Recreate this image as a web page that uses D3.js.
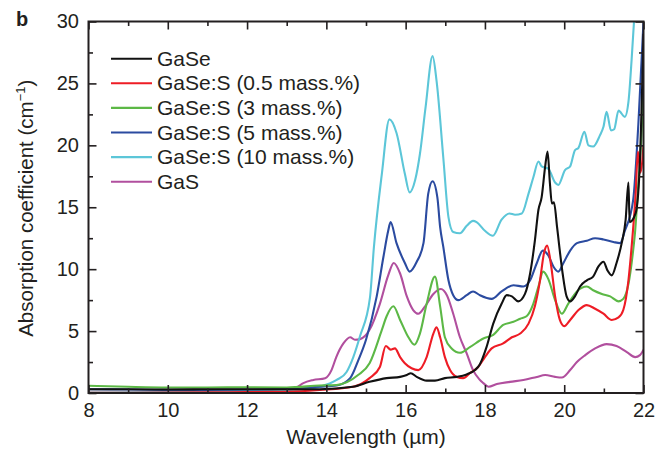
<!DOCTYPE html>
<html>
<head>
<meta charset="utf-8">
<script src="https://cdn.jsdelivr.net/npm/d3@7"></script>
<style>
  html, body { margin: 0; padding: 0; background: #fff; }
  svg { display: block; font-family: "Liberation Sans", Arial, Helvetica, sans-serif; }
</style>
</head>
<body>
<svg id="chart" width="656" height="449"></svg>
<script>
// ---- Data (wavelength µm, absorption cm^-1) ----
const seriesNames = ["GaSe", "GaSe:S (0.5 mass.%)", "GaSe:S (3 mass.%)", "GaSe:S (5 mass.%)", "GaSe:S (10 mass.%)", "GaS"];
const seriesColors = ["#111111", "#ee1c25", "#5cb846", "#2b4ba0", "#5cc6d8", "#b14f9e"];

const gaSe = [[8,0.3],[9,0.3],[10,0.28],[11,0.3],[12,0.3],[13,0.3],[13.83,0.3],[14.67,0.5],[15.09,0.9],[15.52,1.2],[15.86,1.3],[16.03,1.45],[16.13,1.6],[16.28,1.3],[16.53,1.0],[16.74,1.0],[16.99,1.2],[17.29,1.3],[17.54,1.5],[17.75,1.85],[17.87,2.3],[18.04,3.7],[18.21,5.6],[18.42,7.2],[18.55,7.9],[18.68,7.8],[18.84,7.4],[19.01,8.0],[19.14,9.65],[19.26,12.3],[19.35,14.8],[19.43,15.8],[19.52,18.3],[19.58,19.5],[19.64,16.9],[19.69,15.3],[19.74,15.4],[19.82,13.4],[19.87,12.0],[19.96,9.65],[20.06,7.8],[20.15,7.4],[20.27,7.8],[20.4,8.6],[20.57,9.1],[20.73,9.4],[20.86,10.2],[20.99,10.6],[21.09,9.9],[21.2,9.5],[21.32,10.5],[21.45,12.1],[21.55,14],[21.62,17.0],[21.65,13.8],[21.8,14.5],[21.9,18],[22,29]];

const gaSeS05 = [[8,0.02],[9,0.02],[10,0.03],[11,0.05],[12,0.08],[13,0.1],[13.83,0.24],[14.67,0.5],[15.09,1.2],[15.35,2.1],[15.5,3.8],[15.62,3.5],[15.73,3.6],[15.86,2.9],[15.98,2.4],[16.15,2.0],[16.32,1.85],[16.53,2.9],[16.7,4.8],[16.78,5.3],[16.87,4.5],[16.99,2.9],[17.12,1.85],[17.29,1.3],[17.45,1.2],[17.62,1.6],[17.83,2.1],[18.0,2.9],[18.17,3.6],[18.46,4.0],[18.68,4.5],[18.89,4.8],[19.1,5.6],[19.26,7.0],[19.39,9.1],[19.49,11.3],[19.57,11.9],[19.66,10.5],[19.77,7.8],[19.89,5.9],[20.0,5.4],[20.15,5.9],[20.36,6.7],[20.57,7.1],[20.78,6.8],[20.99,6.4],[21.2,5.9],[21.37,6.1],[21.49,6.7],[21.62,9.1],[21.7,11.8],[21.8,16],[21.86,19.5],[21.92,17.8],[22,20]];

const gaSeS3 = [[8,0.58],[9,0.5],[10,0.45],[11,0.45],[12,0.46],[13,0.45],[13.83,0.6],[14.26,0.65],[14.8,1.45],[15.09,2.4],[15.4,5.1],[15.52,6.2],[15.69,7.0],[15.86,5.9],[16.07,4.5],[16.22,3.9],[16.36,4.8],[16.53,7.2],[16.74,9.4],[16.87,7.0],[16.99,4.5],[17.16,3.6],[17.37,3.25],[17.62,3.7],[17.96,4.4],[18.21,4.7],[18.46,5.5],[18.72,5.75],[18.89,6.0],[19.05,6.2],[19.22,7.2],[19.35,8.6],[19.47,9.8],[19.6,9.2],[19.77,7.5],[19.94,6.4],[20.1,7.2],[20.32,8.2],[20.57,8.6],[20.73,8.3],[20.95,8.0],[21.16,7.8],[21.37,7.4],[21.49,7.6],[21.62,8.8],[21.72,11],[21.79,13.1],[21.87,16.9],[21.95,20.9],[22,25]];

const gaSeS5 = [[8,0.3],[9,0.28],[10,0.25],[11,0.25],[12,0.28],[13,0.35],[13.83,0.5],[14.26,0.6],[14.6,1.2],[14.8,2.6],[15.0,4.3],[15.27,7.8],[15.44,11],[15.56,13.1],[15.62,13.8],[15.77,12.1],[15.98,10.5],[16.1,9.8],[16.28,10.6],[16.45,12.1],[16.57,16.1],[16.68,17.1],[16.8,15.8],[16.87,13.4],[16.95,11.8],[17.08,9.1],[17.2,7.9],[17.33,7.5],[17.54,7.9],[17.7,8.2],[17.87,7.9],[18.17,7.6],[18.42,8.2],[18.72,8.7],[18.97,8.6],[19.14,9.1],[19.31,10.5],[19.46,11.5],[19.6,11.1],[19.73,10.2],[19.85,9.8],[19.98,10.5],[20.15,11.5],[20.32,12.1],[20.57,12.3],[20.78,12.5],[20.99,12.4],[21.24,12.2],[21.41,12.1],[21.53,13.1],[21.74,15.6],[21.87,21.7],[22,30]];

const gaSeS10 = [[8,0.03],[9,0.05],[10,0.08],[11,0.12],[12,0.18],[13,0.25],[13.42,0.3],[13.84,0.5],[14.26,1.05],[14.51,1.7],[14.68,2.9],[14.85,4.6],[15.1,7.7],[15.2,11.8],[15.4,17.7],[15.59,22.1],[15.77,21],[15.98,17.7],[16.1,16.2],[16.24,17.2],[16.36,19.3],[16.5,23],[16.68,27.2],[16.78,25.2],[16.95,19],[17.08,14.2],[17.2,13],[17.37,12.9],[17.54,13.5],[17.7,13.9],[17.79,13.8],[18.0,13.1],[18.2,12.7],[18.42,14],[18.62,14.5],[18.76,14.4],[18.93,14.5],[19.1,16.1],[19.22,17.4],[19.35,18.7],[19.43,18.3],[19.6,18.1],[19.77,17],[19.85,16.8],[20.02,18],[20.15,18.3],[20.27,19.6],[20.36,19.8],[20.51,21.1],[20.61,20],[20.73,19.9],[20.9,20.8],[20.99,21.5],[21.07,22.7],[21.18,21.2],[21.26,21.3],[21.37,22.8],[21.53,22.3],[21.62,23.5],[21.7,26.9],[21.78,31]];

const gaS = [[11.2,0.0],[12,0.03],[12.83,0.1],[13.25,0.45],[13.42,0.8],[13.67,1.05],[13.97,1.2],[14.13,1.85],[14.25,2.9],[14.43,4.0],[14.6,4.5],[14.72,4.3],[14.85,4.35],[15.09,5.1],[15.35,7.2],[15.56,9.5],[15.7,10.5],[15.86,9.65],[16.03,7.8],[16.19,6.7],[16.32,6.4],[16.49,7.0],[16.7,8.0],[16.89,8.4],[17.04,7.9],[17.2,6.4],[17.37,4.5],[17.54,3.2],[17.7,1.85],[17.86,1.1],[17.96,0.8],[18.09,0.5],[18.3,0.72],[18.63,0.9],[18.97,1.05],[19.31,1.3],[19.52,1.45],[19.77,1.3],[19.94,1.25],[20.15,1.85],[20.32,2.5],[20.53,3.06],[20.78,3.6],[21.07,3.95],[21.32,3.8],[21.58,3.3],[21.79,2.9],[21.91,3.06],[22,3.5]];

const seriesData = [gaSe, gaSeS05, gaSeS3, gaSeS5, gaSeS10, gaS];
const xMajorTicks = [8, 10, 12, 14, 16, 18, 20, 22];
const xMinorTicks = [9, 11, 13, 15, 17, 19, 21];
const yMajorTicks = [0, 5, 10, 15, 20, 25, 30];
const yMinorTicks = [2.5, 7.5, 12.5, 17.5, 22.5, 27.5];

// ---- Layout ----
const svg = d3.select("#chart");
const L = 88.5, R = 643.5, T = 21.5, B = 393;
const x = d3.scaleLinear().domain([8, 22]).range([L, R]);
const y = d3.scaleLinear().domain([0, 30]).range([B, T]);
const ink = "#231f20";

svg.append("defs").append("clipPath").attr("id", "plotclip")
  .append("rect").attr("x", L).attr("y", T).attr("width", R - L).attr("height", B - T);

// data lines (drawn back to front)
const line = d3.line().x(d => x(d[0])).y(d => y(d[1])).curve(d3.curveMonotoneX);
const drawOrder = [5, 4, 3, 2, 1, 0];
const gLines = svg.append("g").attr("clip-path", "url(#plotclip)");
drawOrder.forEach(i => {
  gLines.append("path").datum(seriesData[i])
    .attr("fill", "none").attr("stroke", seriesColors[i])
    .attr("stroke-width", 2.1).attr("stroke-linejoin", "round")
    .attr("d", line);
});

// axes
function styleAxis(g) {
  g.select(".domain").remove();
  g.selectAll(".tick line").attr("stroke", ink).attr("stroke-width", 1.6);
  g.selectAll(".tick text").attr("fill", ink).attr("font-size", 20);
}
svg.append("g").attr("transform", `translate(0,${B})`)
  .call(d3.axisBottom(x).tickValues(xMajorTicks).tickSize(-8).tickPadding(9.5).tickFormat(d3.format("d")))
  .call(styleAxis);
svg.append("g").attr("transform", `translate(0,${B})`)
  .call(d3.axisBottom(x).tickValues(xMinorTicks).tickSize(-4.5).tickFormat(""))
  .call(styleAxis);
svg.append("g").attr("transform", `translate(0,${T})`)
  .call(d3.axisTop(x).tickValues(xMajorTicks).tickSize(-8).tickFormat(""))
  .call(styleAxis);
svg.append("g").attr("transform", `translate(0,${T})`)
  .call(d3.axisTop(x).tickValues(xMinorTicks).tickSize(-4.5).tickFormat(""))
  .call(styleAxis);
svg.append("g").attr("transform", `translate(${L},0)`)
  .call(d3.axisLeft(y).tickValues(yMajorTicks).tickSize(-8).tickPadding(9.5).tickFormat(d3.format("d")))
  .call(styleAxis);
svg.append("g").attr("transform", `translate(${L},0)`)
  .call(d3.axisLeft(y).tickValues(yMinorTicks).tickSize(-4.5).tickFormat(""))
  .call(styleAxis);
svg.append("g").attr("transform", `translate(${R},0)`)
  .call(d3.axisRight(y).tickValues(yMajorTicks).tickSize(-8).tickFormat(""))
  .call(styleAxis);
svg.append("g").attr("transform", `translate(${R},0)`)
  .call(d3.axisRight(y).tickValues(yMinorTicks).tickSize(-4.5).tickFormat(""))
  .call(styleAxis);

// frame
svg.append("rect").attr("x", L).attr("y", T).attr("width", R - L).attr("height", B - T)
  .attr("fill", "none").attr("stroke", ink).attr("stroke-width", 2);

// axis titles
svg.append("text").attr("x", (L + R) / 2).attr("y", 444)
  .attr("text-anchor", "middle").attr("font-size", 21).attr("fill", ink)
  .text("Wavelength (µm)");
const yt = svg.append("text").attr("transform", `translate(33,${(T + B) / 2 + 1}) rotate(-90)`)
  .attr("text-anchor", "middle").attr("font-size", 20.5).attr("fill", ink);
yt.append("tspan").text("Absorption coefficient (cm");
yt.append("tspan").attr("font-size", 13).attr("dy", -8).text("\u22121");
yt.append("tspan").attr("dy", 8).text(")");

// panel letter
svg.append("text").attr("x", 16).attr("y", 26).attr("font-size", 20)
  .attr("font-weight", "bold").attr("fill", ink).text("b");

// legend
const legY0 = 58.7, legDy = 24.6;
const leg = svg.append("g");
seriesNames.forEach((name, i) => {
  const yy = legY0 + i * legDy;
  leg.append("line").attr("x1", 111).attr("x2", 152).attr("y1", yy).attr("y2", yy)
    .attr("stroke", seriesColors[i]).attr("stroke-width", 2.1);
  leg.append("text").attr("x", 157).attr("y", yy + 7).attr("font-size", 21)
    .attr("fill", ink).text(name);
});
</script>
</body>
</html>
